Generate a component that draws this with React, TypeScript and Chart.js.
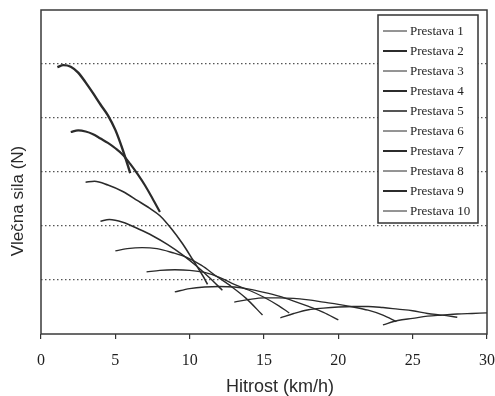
import { useEffect, useRef } from "react";
import { Chart, registerables } from "chart.js";

Chart.register(...registerables);

const gearLabels = [
  "Prestava 1", "Prestava 2", "Prestava 3", "Prestava 4", "Prestava 5",
  "Prestava 6", "Prestava 7", "Prestava 8", "Prestava 9", "Prestava 10",
];

const speed1 = [1.1, 1.5, 2.0, 2.5, 3.0, 3.5, 4.0, 4.5, 5.0, 5.5, 6.0];
const force1 = [4.94, 4.98, 4.95, 4.84, 4.66, 4.46, 4.25, 4.05, 3.78, 3.41, 2.98];

const speed2 = [2.0, 2.5, 3.0, 3.5, 4.0, 4.5, 5.0, 5.5, 6.0, 6.5, 7.0, 7.5, 8.0];
const force2 = [3.74, 3.77, 3.75, 3.7, 3.62, 3.54, 3.44, 3.32, 3.15, 2.96, 2.75, 2.51, 2.26];

const speed3 = [3.0, 3.6, 4.5, 5.5, 6.5, 7.3, 8.0, 8.8, 9.5, 10.2, 10.9, 11.2];
const force3 = [2.81, 2.83, 2.76, 2.64, 2.47, 2.33, 2.19, 1.94, 1.68, 1.38, 1.07, 0.92];

const speed4 = [4.0, 4.6, 5.5, 6.6, 7.5, 8.5, 9.5, 10.5, 11.3, 12.2];
const force4 = [2.09, 2.12, 2.07, 1.94, 1.82, 1.66, 1.47, 1.25, 1.05, 0.81];

const speed5 = [5.0, 5.8, 6.8, 7.8, 8.8, 9.8, 10.8, 11.8, 12.8, 13.8, 14.9];
const force5 = [1.54, 1.58, 1.6, 1.58, 1.51, 1.42, 1.27, 1.07, 0.88, 0.66, 0.35];

const speed6 = [7.1, 8.0, 9.0, 10.0, 11.0, 12.0, 13.0, 14.0, 15.0, 16.0, 16.7];
const force6 = [1.15, 1.18, 1.19, 1.18, 1.14, 1.05, 0.92, 0.81, 0.68, 0.52, 0.39];

const speed7 = [9.0, 10.0, 11.0, 12.0, 13.0, 14.0, 15.0, 16.0, 17.0, 18.0, 19.0, 20.0];
const force7 = [0.78, 0.84, 0.87, 0.88, 0.87, 0.83, 0.77, 0.7, 0.61, 0.51, 0.4, 0.26];

const speed8 = [13.0, 14.0, 15.0, 16.0, 17.0, 18.0, 19.0, 20.0, 21.0, 22.0, 23.0, 23.9];
const force8 = [0.59, 0.64, 0.67, 0.67, 0.66, 0.63, 0.59, 0.55, 0.5, 0.44, 0.35, 0.23];

const speed9 = [16.1, 17.0, 18.0, 19.0, 20.0, 21.0, 22.0, 23.0, 24.0, 25.0, 26.0, 27.0, 28.0];
const force9 = [0.3, 0.38, 0.45, 0.48, 0.5, 0.51, 0.51, 0.49, 0.46, 0.43, 0.38, 0.35, 0.31];

const speed10 = [23.0, 24.0, 25.0, 26.0, 27.0, 28.0, 29.0, 30.0];
const force10 = [0.17, 0.25, 0.29, 0.33, 0.35, 0.37, 0.38, 0.39];

const xTicks = [0, 5, 10, 15, 20, 25, 30];
const yGridValues = [1, 2, 3, 4, 5];

const xTitle = "Hitrost (km/h)";
const yTitle = "Vlečna sila (N)";

const speeds = [speed1, speed2, speed3, speed4, speed5, speed6, speed7, speed8, speed9, speed10];
const forces = [force1, force2, force3, force4, force5, force6, force7, force8, force9, force10];

// styles
const curveWidths = [2.4, 2.2, 1.6, 1.5, 1.4, 1.3, 1.4, 1.3, 1.4, 1.3];
const legendWidths = [1, 2, 1, 2, 1.6, 1, 2, 1, 2, 1];
const INK = "#2b2b2b";

const frameAndTitles = {
  id: "frameAndTitles",
  beforeDatasetsDraw(chart: any) {
    const { ctx, chartArea } = chart;
    ctx.save();
    ctx.strokeStyle = "#3a3a3a";
    ctx.lineWidth = 1.5;
    ctx.strokeRect(chartArea.left, chartArea.top, chartArea.right - chartArea.left, chartArea.bottom - chartArea.top);
    ctx.restore();
  },
  afterDraw(chart: any) {
    const { ctx, chartArea } = chart;
    ctx.save();
    ctx.fillStyle = "#2a2a2a";
    ctx.textAlign = "center";
    ctx.textBaseline = "middle";
    ctx.font = "18px 'Liberation Sans', Arial, sans-serif";
    ctx.fillText(xTitle, chartArea.left + 239, chartArea.bottom + 53);
    ctx.translate(18, chartArea.top + 191);
    ctx.rotate(-Math.PI / 2);
    ctx.font = "17px 'Liberation Sans', Arial, sans-serif";
    ctx.fillText(yTitle, 0, 0);
    ctx.restore();
  },
};

const boxLegend = {
  id: "boxLegend",
  afterDatasetsDraw(chart: any) {
    const { ctx, chartArea } = chart;
    const x0 = chartArea.right - 109;
    const y0 = chartArea.top + 5;
    const w = 100;
    const h = 208;
    ctx.save();
    ctx.fillStyle = "#fff";
    ctx.fillRect(x0, y0, w, h);
    ctx.strokeStyle = "#333";
    ctx.lineWidth = 1.5;
    ctx.strokeRect(x0, y0, w, h);
    ctx.font = "13px 'Liberation Serif', 'Times New Roman', serif";
    ctx.textBaseline = "middle";
    ctx.textAlign = "left";
    gearLabels.forEach((label, i) => {
      const y = y0 + 16 + i * 20;
      ctx.strokeStyle = INK;
      ctx.lineWidth = legendWidths[i];
      ctx.beginPath();
      ctx.moveTo(x0 + 5, y);
      ctx.lineTo(x0 + 29, y);
      ctx.stroke();
      ctx.fillStyle = "#1e1e1e";
      ctx.fillText(label, x0 + 32, y + 1);
    });
    ctx.restore();
  },
};

export default function App() {
  const ref = useRef<HTMLCanvasElement>(null);

  useEffect(() => {
    document.body.style.margin = "0";
    if (!ref.current) return;
    const datasets = gearLabels.map((label, i) => ({
      label,
      data: speeds[i].map((s, j) => ({ x: s, y: forces[i][j] })),
      borderColor: INK,
      backgroundColor: INK,
      borderWidth: curveWidths[i],
      pointRadius: 0,
      fill: false,
      tension: 0.4,
      cubicInterpolationMode: "monotone" as const,
    }));
    const chart = new Chart(ref.current, {
      type: "line",
      data: { datasets },
      plugins: [frameAndTitles, boxLegend],
      options: {
        animation: false,
        responsive: true,
        maintainAspectRatio: false,
        layout: { padding: { left: 0, right: 8, top: 10, bottom: 0 } },
        plugins: { legend: { display: false }, tooltip: { enabled: false } },
        scales: {
          x: {
            type: "linear",
            min: 0,
            max: 30,
            afterFit: (s: any) => { s.height = 62; s.paddingLeft = 0; s.paddingRight = 0; },
            afterBuildTicks: (s: any) => { s.ticks = xTicks.map((v) => ({ value: v })); },
            ticks: {
              padding: 12,
              color: "#1e1e1e",
              font: { family: "'Liberation Serif', 'Times New Roman', serif", size: 16 },
            },
            grid: { drawOnChartArea: false, drawTicks: true, tickLength: 5, color: "#333", lineWidth: 1.2 },
            border: { display: false },
          },
          y: {
            type: "linear",
            min: 0,
            max: 6,
            afterFit: (s: any) => { s.width = 41; s.paddingTop = 0; s.paddingBottom = 0; },
            afterBuildTicks: (s: any) => { s.ticks = yGridValues.map((v) => ({ value: v })); },
            ticks: { display: false },
            grid: { drawTicks: false, color: "#555", lineWidth: 1.2 },
            border: { display: false, dash: [1.5, 2.5] },
          },
        },
      },
    });
    return () => chart.destroy();
  }, []);

  return (
    <div style={{ width: 495, height: 396, position: "relative" }}>
      <canvas ref={ref} />
    </div>
  );
}
